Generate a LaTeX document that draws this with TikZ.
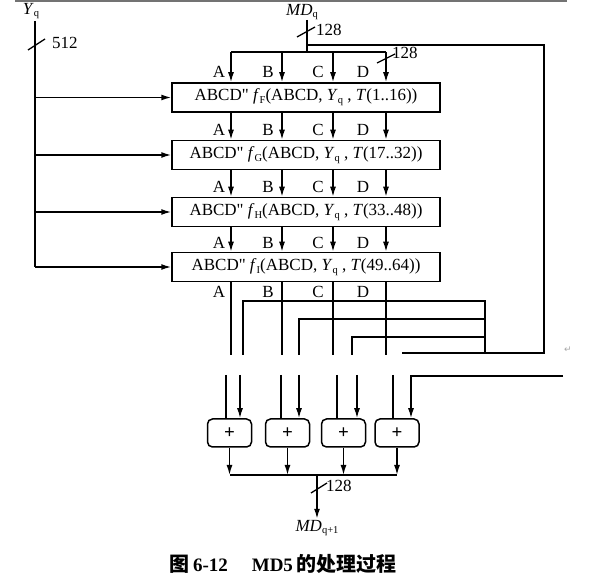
\documentclass[tikz,border=0pt]{standalone}
\usepackage{fontspec}
\setmainfont{Liberation Serif}[Ligatures=TeXOff]
\newfontfamily\cjk{Noto Sans CJK SC}
\newfontfamily\symfont{DejaVu Sans}
\usetikzlibrary{arrows.meta}

\newcommand{\idx}[1]{\raisebox{-0.35ex}{\fontsize{10.5}{10}\selectfont #1}}

\begin{document}
\begin{tikzpicture}[
  x=1pt, y=-1pt,
  font=\fontsize{17}{18}\selectfont,
  >={Latex[length=10pt,width=6pt]},
  line/.style={line width=1.5pt, black},
  arr/.style={->, line width=1.5pt, black},
  tick/.style={line width=1.3pt, black},
  rnd/.style={
    rectangle, draw=black, line width=1.5pt,
    minimum width=268pt, minimum height=29pt, inner sep=0pt
  },
  adder/.style={
    rectangle, rounded corners=5pt, draw=black, line width=1.5pt,
    minimum width=44pt, minimum height=28pt, inner sep=0pt,
    font=\fontsize{19}{19}\selectfont\bfseries
  },
  lbl/.style={inner sep=1pt},
  wlbl/.style={inner sep=1pt, anchor=west, font=\fontsize{17}{18}\selectfont}
]
\useasboundingbox (0,0) rectangle (603,577);
\draw[black!55, line width=2pt] (15,1) -- (567,1);

%% ── Inputs: Yq and MDq ─────────────────────────────────────────────
\node[lbl] (yq) at (31,11) {\textit{Y}\idx{q}};
\node[lbl] (mdq) at (302,12) {\textit{MD}\idx{q}};
\coordinate (yin) at (35,21);
\coordinate (mdin) at (307,20);

%% ── Four rounds ─────────────────────────────────────────────────────
\node[rnd] (rF) at (306,97.5) {ABCD" \textit{f}\idx{F}(ABCD, \textit{Y}\idx{q} , \textit{T}(1..16))};
\node[rnd] (rG) at (306,155) {ABCD" \textit{f}\idx{G}(ABCD, \textit{Y}\idx{q} , \textit{T}(17..32))};
\node[rnd] (rH) at (306,212) {ABCD" \textit{f}\idx{H}(ABCD, \textit{Y}\idx{q} , \textit{T}(33..48))};
\node[rnd] (rI) at (306,267) {ABCD" \textit{f}\idx{I}(ABCD, \textit{Y}\idx{q} , \textit{T}(49..64))};

%% ── Yq feeds every round ────────────────────────────────────────────
\draw[line] (yin) -- (yin |- rI.west);
\draw[arr] (yin |- rF.west) -- (rF.west);
\draw[arr] (yin |- rG.west) -- (rG.west);
\draw[arr] (yin |- rH.west) -- (rH.west);
\draw[arr] (yin |- rI.west) -- (rI.west);
\coordinate (w1) at (36,44);
\draw[tick] (w1) +(-8,6) -- +(9,-5);
\node[wlbl] (w1l) at (51,43) {512};

%% ── MDq split into A B C D ──────────────────────────────────────────
\coordinate (cA) at (231,52);
\coordinate (cB) at (282,52);
\coordinate (cC) at (333,52);
\coordinate (cD) at (386,52);
\coordinate (fb0) at (307,45);
\draw[line] (mdin) -- (mdin |- cA);
\draw[line] (cA) -- (cD);
\coordinate (w2) at (307,32);
\draw[tick] (w2) +(-10,5) -- +(8,-5);
\node[wlbl] (w2l) at (315,30) {128};
\coordinate (w3) at (386,58);
\draw[tick] (w3) +(-9,5) -- +(9,-4);
\node[wlbl] (w3l) at (391,53) {128};

\draw[arr] (cA) -- (cA |- rF.north);
\draw[arr] (cB) -- (cB |- rF.north);
\draw[arr] (cC) -- (cC |- rF.north);
\draw[arr] (cD) -- (cD |- rF.north);

\draw[arr] (cA |- rF.south) -- (cA |- rG.north);
\draw[arr] (cB |- rF.south) -- (cB |- rG.north);
\draw[arr] (cC |- rF.south) -- (cC |- rG.north);
\draw[arr] (cD |- rF.south) -- (cD |- rG.north);

\draw[arr] (cA |- rG.south) -- (cA |- rH.north);
\draw[arr] (cB |- rG.south) -- (cB |- rH.north);
\draw[arr] (cC |- rG.south) -- (cC |- rH.north);
\draw[arr] (cD |- rG.south) -- (cD |- rH.north);

\draw[arr] (cA |- rH.south) -- (cA |- rI.north);
\draw[arr] (cB |- rH.south) -- (cB |- rI.north);
\draw[arr] (cC |- rH.south) -- (cC |- rI.north);
\draw[arr] (cD |- rH.south) -- (cD |- rI.north);

%% ── Word labels ─────────────────────────────────────────────────────
\node[lbl] (a0) at (219,72) {A}; \node[lbl] (b0) at (268,72) {B};
\node[lbl] (c0) at (318,72) {C}; \node[lbl] (d0) at (363,72) {D};
\node[lbl] (a1) at (219,130) {A}; \node[lbl] (b1) at (268,130) {B};
\node[lbl] (c1) at (318,130) {C}; \node[lbl] (d1) at (363,130) {D};
\node[lbl] (a2) at (219,187) {A}; \node[lbl] (b2) at (268,187) {B};
\node[lbl] (c2) at (318,187) {C}; \node[lbl] (d2) at (363,187) {D};
\node[lbl] (a3) at (219,243) {A}; \node[lbl] (b3) at (268,243) {B};
\node[lbl] (c3) at (318,243) {C}; \node[lbl] (d3) at (363,243) {D};
\node[lbl] (a4) at (219,292) {A}; \node[lbl] (b4) at (268,292) {B};
\node[lbl] (c4) at (318,292) {C}; \node[lbl] (d4) at (363,292) {D};

%% ── Output of last round, down to the break ────────────────────────
\coordinate (brk) at (0,355);
\draw[line] (cA |- rI.south) -- (cA |- brk);
\draw[line] (cB |- rI.south) -- (cB |- brk);
\draw[line] (cC |- rI.south) -- (cC |- brk);
\draw[line] (cD |- rI.south) -- (cD |- brk);

%% ── MDq fed forward to the adders ──────────────────────────────────
\coordinate (fbR) at (544,353);
\coordinate (fbD) at (402,353);
\coordinate (fbJ) at (485,353);
\coordinate (fbA) at (243,301);
\coordinate (fbB) at (299,319);
\coordinate (fbC) at (352,337);
\draw[line] (fb0) -| (fbR) -- (fbD);
\draw[line] (fbA |- brk) -- (fbA) -- (fbJ |- fbA) -- (fbJ);
\draw[line] (fbB |- brk) -- (fbB) -- (fbJ |- fbB);
\draw[line] (fbC |- brk) -- (fbC) -- (fbJ |- fbC);
\node[text=black!35, font=\symfont\fontsize{9}{9}\selectfont] (ret) at (568,350) {↵};

%% ── Adders ──────────────────────────────────────────────────────────
\node[adder] (aA) at (229.5,433) {+};
\node[adder] (aB) at (287.5,433) {+};
\node[adder] (aC) at (343.5,433) {+};
\node[adder] (aD) at (397,433) {+};

\coordinate (pA) at (226,375); \coordinate (qA) at (240,375);
\coordinate (pB) at (281,375); \coordinate (qB) at (299,375);
\coordinate (pC) at (337,375); \coordinate (qC) at (357,375);
\coordinate (pD) at (393,375); \coordinate (qD) at (411,376);
\coordinate (qE) at (563,376);

\draw[line] (pA) -- (pA |- aA.north);
\draw[arr] (qA) -- (qA |- aA.north);
\draw[line] (pB) -- (pB |- aB.north);
\draw[arr] (qB) -- (qB |- aB.north);
\draw[line] (pC) -- (pC |- aC.north);
\draw[arr] (qC) -- (qC |- aC.north);
\draw[line] (pD) -- (pD |- aD.north);
\draw[arr] (qE) -- (qD) -- (qD |- aD.north);

%% ── Result MDq+1 ────────────────────────────────────────────────────
\coordinate (sum) at (317,475);
\draw[arr] (aA.south) -- (aA.south |- sum);
\draw[arr] (aB.south) -- (aB.south |- sum);
\draw[arr] (aC.south) -- (aC.south |- sum);
\draw[arr] (aD.south) -- (aD.south |- sum);
\draw[line] (aA.south |- sum) -- (aD.south |- sum);
\node[lbl] (mdo) at (317,528) {\textit{MD}\idx{q+1}};
\draw[arr] (sum) -- (mdo.north);
\coordinate (w4) at (317,488);
\draw[tick] (w4) +(-6,5) -- +(10,-5);
\node[wlbl] (w4l) at (325,486) {128};

%% ── Caption ─────────────────────────────────────────────────────────
\node (cap) at (283,564) {{\cjk\bfseries\fontsize{20}{20}\selectfont 图}\hspace{4pt}{\bfseries\fontsize{19}{20}\selectfont 6-12}\hspace{24pt}{\bfseries\fontsize{19}{20}\selectfont MD5}\hspace{4pt}{\cjk\bfseries\fontsize{20}{20}\selectfont 的处理过程}};

\end{tikzpicture}
\end{document}
